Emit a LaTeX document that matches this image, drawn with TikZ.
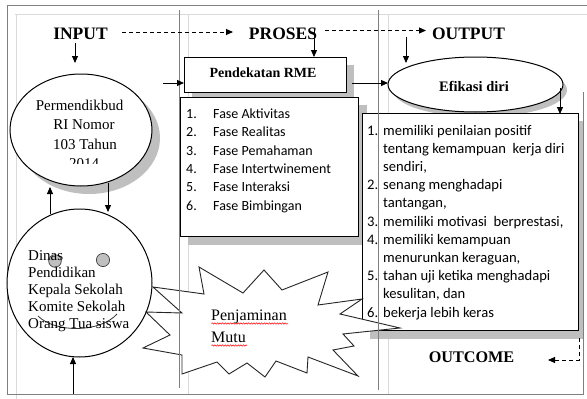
\documentclass[tikz,border=0pt]{standalone}
\usepackage{fontspec}
\setmainfont{Liberation Serif}
\newfontfamily\calfont{Carlito}
\usetikzlibrary{arrows.meta,shapes.geometric,decorations.pathmorphing}
\definecolor{shadowc}{HTML}{BFBFBF}
\definecolor{framec}{HTML}{7F7F7F}
\definecolor{lightc}{HTML}{DADADA}
\tikzset{
  lightln/.style={draw=lightc, line width=0.9pt},
  darkln/.style={draw=framec, line width=1pt},
  box/.style={draw=black, fill=white, line width=1.3pt, inner sep=0pt, anchor=north west},
  ell/.style={ellipse, draw=black, fill=white, line width=1pt, inner sep=0pt},
  hdr/.style={font=\bfseries\fontsize{17.5}{18}\selectfont, anchor=base, inner sep=0pt},
  serif/.style={font=\fontsize{15}{16}\selectfont, anchor=base, inner sep=0pt},
  serifl/.style={font=\fontsize{15}{16}\selectfont, anchor=base west, inner sep=0pt},
  lst/.style={font=\calfont\fontsize{14}{15}\selectfont, anchor=base west, inner sep=0pt},
  lstb/.style={font=\calfont\fontsize{14.6}{15}\selectfont, anchor=base west, inner sep=0pt},
  arr/.style={-{Triangle[length=7pt,width=6pt]}, line width=0.9pt, black},
  darr/.style={-{Triangle[length=7pt,width=6pt]}, line width=0.9pt, black, dash pattern=on 4pt off 3pt},
  squig/.style={red, line width=0.5pt, decorate, decoration={snake, amplitude=0.7pt, segment length=2.6pt}}
}
\begin{document}
\begin{tikzpicture}[x=1pt,y=-1pt]
\useasboundingbox (0,0) rectangle (587,399);
\fill[white] (0,0) rectangle (587,399);

% light frame lines
\draw[lightln] (15,14) -- (587,14);
\draw[lightln] (16,14) -- (16,399);
\draw[lightln] (188,14) -- (188,395);
\draw[lightln] (388,14) -- (388,395);

% outer frame
\draw[darkln] (587,5) -- (7,5) -- (7,394) -- (583,394) -- (583,92);

% shadows
\fill[shadowc] (192,65) rectangle (354,100);
\fill[shadowc] (188,105) rectangle (367,245);
\fill[shadowc] (370,121) rectangle (583,339);
\fill[shadowc] (89,138) ellipse [x radius=71, y radius=56];
\fill[shadowc] (480,90) ellipse [x radius=87, y radius=27];

% boxes
\node[box, minimum width=162pt, minimum height=35pt] (rme) at (184,57) {};
\node[box, minimum width=178pt, minimum height=139pt] (fase) at (180,97) {};
\node[box, minimum width=216pt, minimum height=217pt] (outc) at (362,113) {};

% ellipses
\node[ell, minimum width=142pt, minimum height=112pt] (perm) at (81,130) {};
\node[ell, minimum width=145pt, minimum height=148pt] (dinas) at (79.5,283) {};
\node[ell, minimum width=175pt, minimum height=55pt] (efik) at (475.5,84.5) {};

% face in the circle
\filldraw[fill=shadowc, draw=black!75, line width=0.7pt] (55,261) circle (6.3);
\filldraw[fill=shadowc, draw=black!75, line width=0.7pt] (103,260) circle (6.6);
\draw[black!80, line width=0.8pt] (38,316) .. controls (55,333) and (100,333) .. (117,314);

% starburst
\draw[fill=white, draw=black!85, line width=0.9pt]
  (199,267) -- (243,293) -- (264,270) -- (282,290) -- (328,272) -- (318,305)
  -- (362,299) -- (340,314) -- (400,328) -- (343,334) -- (354,346) -- (333,350)
  -- (358,376) -- (308,357) -- (307,373) -- (276,361) -- (265,377) -- (247,363)
  -- (229,374) -- (217,362) -- (182,374) -- (182,355) -- (143,348) -- (170,335)
  -- (146,312) -- (182,313) -- (153,287) -- (204,294) -- cycle;

% column dividers
\draw[darkln] (179,10) -- (179,388);
\draw[darkln] (378,10) -- (378,390);

% headers
\node[hdr] (hin) at (80.5,39) {INPUT};
\node[hdr] (hpr) at (283,39) {PROSES};
\node[hdr] (hou) at (468.5,39) {OUTPUT};
\node[hdr, font=\bfseries\fontsize{16.2}{17}\selectfont] (hoc) at (471.5,362) {OUTCOME};

% box texts
\node[hdr, font=\bfseries\fontsize{14}{15}\selectfont] (trme) at (263,77) {Pendekatan RME};
\node[hdr, font=\bfseries\fontsize{14.5}{15}\selectfont] (tefi) at (474,91) {Efikasi diri};

\node[serif] (p1) at (79.5,110) {Permendikbud};
\node[serif] (p2) at (84,129) {RI Nomor};
\node[serif] (p3) at (85,149) {103 Tahun};
\begin{scope}
\clip (0,0) rectangle (587,163.5);
\node[serif] (p4) at (84,168.5) {2014};
\end{scope}

\node[serifl] (d1) at (28,260) {Dinas};
\node[serifl] (d2) at (28,277) {Pendidikan};
\node[serifl] (d3) at (28,294.5) {Kepala Sekolah};
\node[serifl] (d4) at (28,311.5) {Komite Sekolah};
\node[serifl] (d5) at (28,328.5) {Orang Tua siswa};

\node[serifl, font=\fontsize{16}{17}\selectfont] (pj1) at (211,320) {Penjaminan};
\node[serifl, font=\fontsize{16}{17}\selectfont] (pj2) at (211,342) {Mutu};
\draw[squig] (211.5,323.5) -- (288,323.5);
\draw[squig] (211.5,345.5) -- (247,345.5);

% fase list
\foreach \n/\t [count=\i from 0] in {1/Fase Aktivitas,2/Fase Realitas,3/Fase Pemahaman,4/Fase Intertwinement,5/Fase Interaksi,6/Fase Bimbingan}{
  \node[lst] (fn\n) at (186,118.5+18.3*\i) {\n.};
  \node[lst] (ft\n) at (213,118.5+18.3*\i) {\t};
}

% outcome list
\node[lstb] (on1) at (367,135) {1.};
\node[lstb] (ot1) at (383,135) {memiliki penilaian positif};
\node[lstb] (ot1b) at (383,153.2) {tentang kemampuan\ \ kerja diri};
\node[lstb] (ot1c) at (383,171.4) {sendiri,};
\node[lstb] (on2) at (367,189.6) {2.};
\node[lstb] (ot2) at (383,189.6) {senang menghadapi};
\node[lstb] (ot2b) at (383,207.8) {tantangan,};
\node[lstb] (on3) at (367,226) {3.};
\node[lstb] (ot3) at (383,226) {memiliki motivasi\ \ berprestasi,};
\node[lstb] (on4) at (367,244.2) {4.};
\node[lstb] (ot4) at (383,244.2) {memiliki kemampuan};
\node[lstb] (ot4b) at (383,262.4) {menurunkan keraguan,};
\node[lstb] (on5) at (367,280.6) {5.};
\node[lstb] (ot5) at (383,280.6) {tahan uji ketika menghadapi};
\node[lstb] (ot5b) at (383,298.8) {kesulitan, dan};
\node[lstb] (on6) at (367,317) {6.};
\node[lstb] (ot6) at (383,317) {bekerja lebih keras};

% connector end points
\coordinate (c1a) at (122,32);   \coordinate (c1b) at (233,32);
\coordinate (c2a) at (325,30.5); \coordinate (c2b) at (426,30.5);
\coordinate (c3a) at (75,43);    \coordinate (c3b) at (75,63);
\coordinate (c4a) at (314,29);   \coordinate (c4b) at (314,57);
\coordinate (c5a) at (406,37);   \coordinate (c5b) at (406,63);
\coordinate (c6a) at (163,83);   \coordinate (c6b) at (184,83);
\coordinate (c7a) at (352,83);   \coordinate (c7b) at (388,83);
\coordinate (c8a) at (560,88);   \coordinate (c8b) at (560,114);
\coordinate (c9a) at (50,214);   \coordinate (c9b) at (50,187);
\coordinate (c10a) at (108,183); \coordinate (c10b) at (108,212);
\coordinate (c11a) at (73,394);  \coordinate (c11b) at (73,357);
\coordinate (c12a) at (579,338); \coordinate (c12m) at (579,360); \coordinate (c12b) at (548,360);

% connectors
\draw[darr] (c1a) -- (c1b);
\draw[darr] (c2a) -- (c2b);
\draw[arr] (c3a) -- (c3b);
\draw[arr] (c4a) -- (c4b);
\draw[arr] (c5a) -- (c5b);
\draw[arr] (c6a) -- (c6b);
\draw[arr] (c7a) -- (c7b);
\draw[arr] (c8a) -- (c8b);
\draw[arr] (c9a) -- (c9b);
\draw[arr] (c10a) -- (c10b);
\draw[arr] (c11a) -- (c11b);
\draw[darr] (c12a) -- (c12m) -- (c12b);
\end{tikzpicture}
\end{document}
